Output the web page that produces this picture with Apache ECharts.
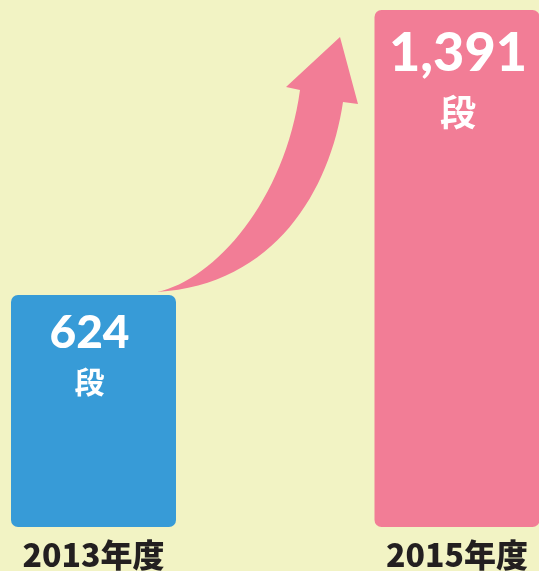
<!DOCTYPE html>
<html>
<head>
<meta charset="utf-8">
<script src="https://cdn.jsdelivr.net/npm/echarts@6/dist/echarts.min.js"></script>
<style>
  html, body { margin: 0; padding: 0; background: #f2f3c4; }
  #chart { width: 539px; height: 571px; }
</style>
</head>
<body>
<div id="chart"></div>
<script>
// data
const years = ['2013年度', '2015年度'];
const counts = [624, 1391];
const unit = '段';
const barColors = ['#379bd7', '#f27d96'];

let myChart = echarts.init(document.getElementById('chart'));

// label sizes differ a bit between the two bars
const labelStyle = [
  { num: 46, numLH: 48, unit: 30, unitLH: 50, dx: -4 },
  { num: 54, numLH: 60, unit: 36, unitLH: 56, dx: 1 }
];

let sData = counts.map((val, i) => {
  let ls = labelStyle[i];
  return {
    value: val,
    itemStyle: { color: barColors[i] },
    label: {
      offset: [ls.dx, 0],
      rich: {
        v: { fontSize: ls.num, lineHeight: ls.numLH, fontWeight: 900, color: '#fff', fontFamily: 'Lato' },
        u: { fontSize: ls.unit, lineHeight: ls.unitLH, fontWeight: 'bold', color: '#fff', fontFamily: 'Noto Sans CJK JP' }
      }
    }
  };
});

// curved arrow between the bars (decoration only)
const arrowPath = 'M157 292 C215 280 285 200 300 90 L286 87 L340 37 L358 104 L343 102 C330 190 275 285 157 292 Z';

let option = {
  backgroundColor: '#f2f3c4',
  animation: false,
  grid: { left: 93.5, right: 82, top: 10, bottom: 44 },
  xAxis: {
    type: 'category',
    data: years,
    boundaryGap: false,
    axisLine: { show: false },
    axisTick: { show: false },
    axisLabel: {
      margin: 12,
      fontSize: 32,
      fontWeight: 900,
      color: '#231f20',
      fontFamily: 'Noto Sans CJK JP'
    }
  },
  yAxis: {
    type: 'value',
    min: 0,
    max: 1391,
    show: false
  },
  series: [{
    type: 'bar',
    clip: false,
    barWidth: 165,
    data: sData,
    itemStyle: { borderRadius: 7 },
    label: {
      show: true,
      position: 'insideTop',
      distance: 14,
      formatter: p => '{v|' + p.value.toLocaleString('en-US') + '}\n{u|' + unit + '}'
    }
  }, {
    type: 'custom',
    coordinateSystem: 'none',
    silent: true,
    data: [[0]],
    renderItem: () => ({
      type: 'path',
      shape: { pathData: arrowPath },
      style: { fill: '#f27d96' }
    })
  }]
};
myChart.setOption(option);
</script>
</body>
</html>
